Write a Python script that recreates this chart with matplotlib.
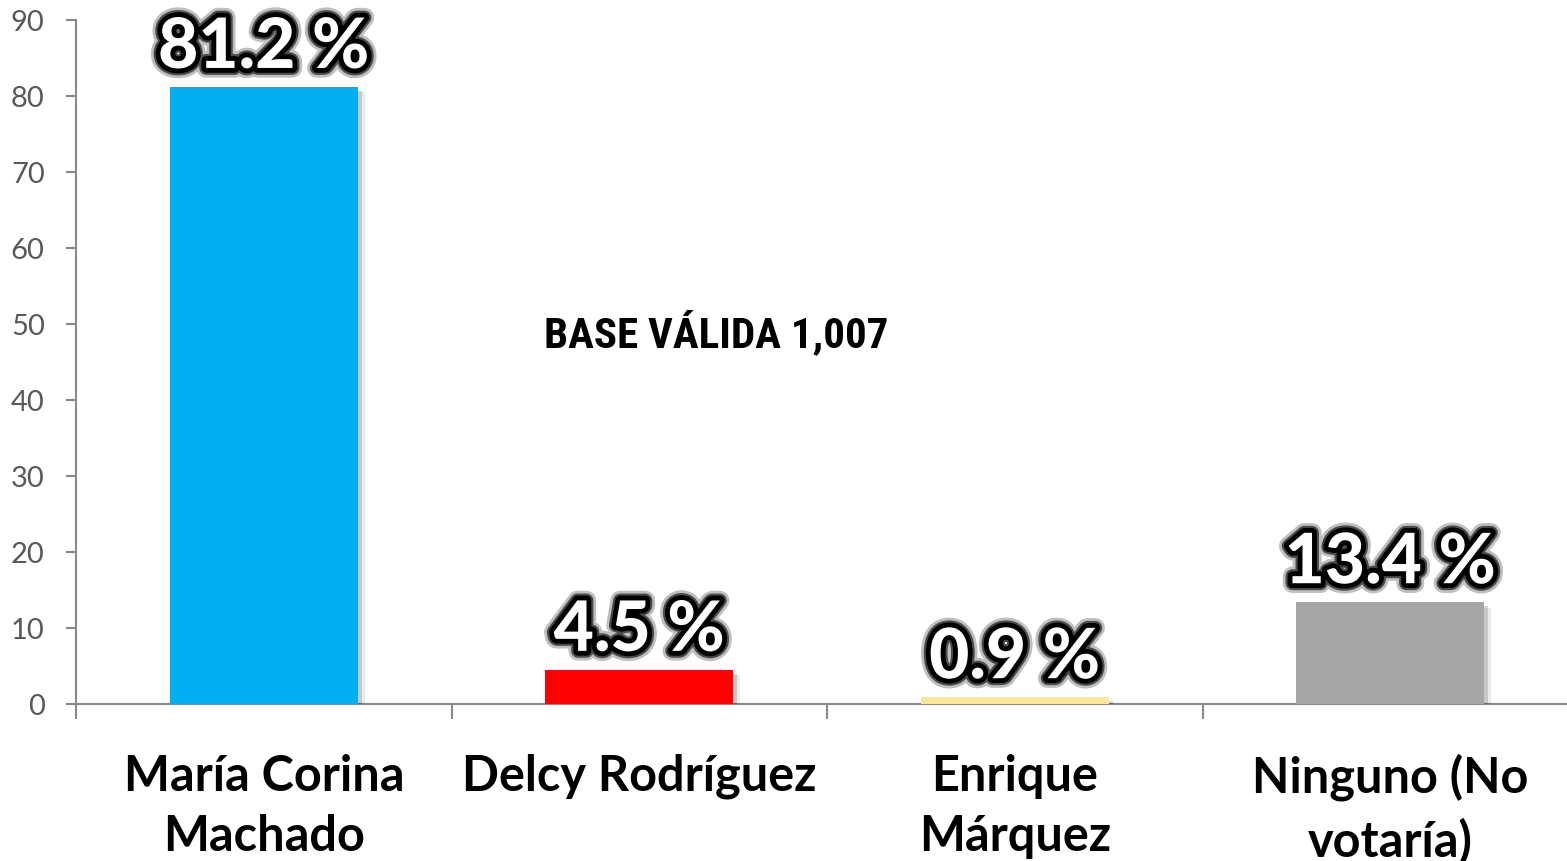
import matplotlib
matplotlib.use("Agg")
import matplotlib.pyplot as plt
import matplotlib.patheffects as pe

# data
candidates = ["María Corina\nMachado", "Delcy Rodríguez", "Enrique\nMárquez", "Ninguno (No\nvotaría)"]
values = [81.2, 4.5, 0.9, 13.4]
value_labels = ["81.2 %", "4.5 %", "0.9 %", "13.4 %"]
colors = ["#00B0F0", "#FF0000", "#FFE699", "#A6A6A6"]

plt.rcParams["font.family"] = ["Lato", "DejaVu Sans"]

fig = plt.figure(figsize=(15.67, 8.62), dpi=100)
# axes extends past the right edge like the original
ax = fig.add_axes([76 / 1567, 157 / 862, 1502 / 1567, 684 / 862])

x = list(range(len(values)))
bars = ax.bar(x, values, width=0.5, color=colors, zorder=3)
for b in bars:
    b.set_path_effects([pe.SimplePatchShadow(offset=(3, -3), shadow_rgbFace="black", alpha=0.15),
                        pe.SimplePatchShadow(offset=(5, -4), shadow_rgbFace="black", alpha=0.08),
                        pe.Normal()])

ax.set_xlim(-0.5, 3.5)
ax.set_ylim(0, 90)
ax.set_yticks(range(0, 91, 10))

gray = "#898989"
for s in ["top", "right"]:
    ax.spines[s].set_visible(False)
for s in ["left", "bottom"]:
    ax.spines[s].set_color(gray)
    ax.spines[s].set_linewidth(1.5)

ax.tick_params(axis="y", colors=gray, length=7.5, width=1.5, labelsize=21, labelcolor="#595959", pad=15)
ax.set_xticks(x)
ax.set_xticklabels(candidates, fontsize=35, fontweight="bold", color="black", linespacing=1.42)
ax.tick_params(axis="x", length=0, pad=35)
ax.set_xticks([-0.5, 0.5, 1.5, 2.5], minor=True)
ax.tick_params(axis="x", which="minor", length=11, width=1.5, color=gray)

# value labels with black glow
glow = [pe.Stroke(linewidth=14, foreground="black", alpha=0.25),
        pe.Stroke(linewidth=10, foreground="black", alpha=0.6),
        pe.Stroke(linewidth=7, foreground="black"),
        pe.Normal()]
for xi, v, lab in zip(x, values, value_labels):
    t = ax.annotate(lab, (xi, v), xytext=(0, 5), textcoords="offset points",
                    ha="center", va="bottom", fontsize=50, fontweight=900, color="white", zorder=5)
    t.set_path_effects(glow)

ax.text(1.204, 48.9, "BASE VÁLIDA 1,007", fontsize=31, fontweight="bold",
        family=["Roboto Condensed", "Open Sans Condensed", "Roboto", "DejaVu Sans"],
        stretch="condensed", color="black", ha="center", va="center")

plt.savefig("out.png", dpi=100)
